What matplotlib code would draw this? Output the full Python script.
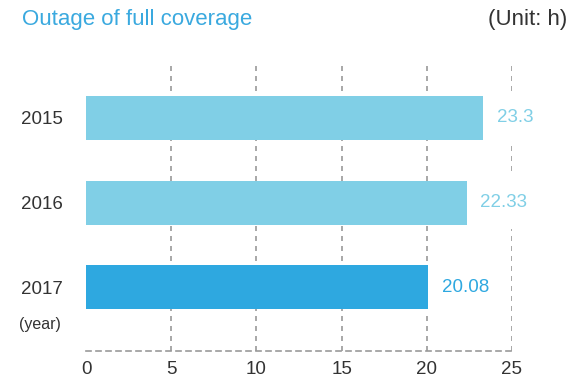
import matplotlib.pyplot as plt

plt.rcParams['font.family'] = ['Liberation Sans', 'DejaVu Sans']

years = ['2015', '2016', '2017']
hours = [23.3, 22.33, 20.08]
value_labels = ['23.3', '22.33', '20.08']
bar_colors = ['#80cfe6', '#80cfe6', '#2ea8e0']
xticks = [0, 5, 10, 15, 20, 25]

fig = plt.figure(figsize=(5.69, 3.85), dpi=100)
ax = fig.add_axes([86 / 569, 34 / 385, 426 / 569, 289 / 385])

pos = list(range(len(years)))
ax.barh(pos, hours, height=0.52, color=bar_colors, zorder=3)

# value labels with a white box (under the bars) so the dashed grid breaks behind them
for p, v, lab, c in zip(pos, hours, value_labels, bar_colors):
    ax.annotate(lab, (v, p), xytext=(10, 0), textcoords='offset points',
                va='center', ha='left', fontsize=13.5, color=c, zorder=2,
                bbox=dict(boxstyle='square,pad=0.95', fc='white', ec='none'))

ax.set_xlim(0, 25)
ax.set_ylim(2.75, -0.66)
ax.set_xticks(xticks)
ax.set_xticklabels([str(t) for t in xticks], fontsize=13.5, color='#333333')
ax.set_yticks(pos)
ax.set_yticklabels(years, fontsize=13.5, color='#333333')
ax.tick_params(axis='both', length=0)
ax.tick_params(axis='x', pad=7)
ax.tick_params(axis='y', pad=17)

# dashed vertical grid, skipping 0
for t in xticks[1:]:
    ax.axvline(t, color='#999999', lw=1.2, ls=(0, (3, 3)), zorder=1)

for s in ['top', 'right', 'left']:
    ax.spines[s].set_visible(False)
ax.spines['bottom'].set_color('#999999')
ax.spines['bottom'].set_linestyle((0, (3, 3)))
ax.spines['bottom'].set_linewidth(1.2)

fig.text(22 / 569, 1 - 19 / 385, 'Outage of full coverage', fontsize=16,
         color='#3aa9df', va='center', ha='left')
fig.text(567 / 569, 1 - 20 / 385, '(Unit: h)', fontsize=16,
         color='#333333', va='center', ha='right')
fig.text(19 / 569, 1 - 325 / 385, '(year)', fontsize=11.5,
         color='#333333', va='center', ha='left')

fig.savefig('out.png', dpi=100)
